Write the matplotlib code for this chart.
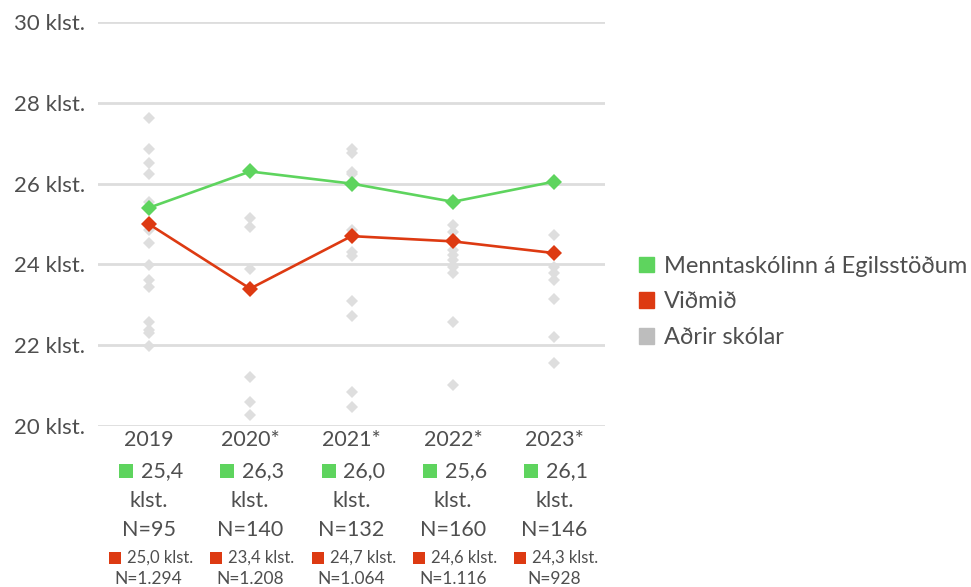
from matplotlib import pyplot as plt
from matplotlib.patches import Patch
import matplotlib.transforms as mtransforms

years = ["2019", "2020*", "2021*", "2022*", "2023*"]
school = [25.4, 26.3, 26.0, 25.55, 26.05]
school_labels = ["25,4", "26,3", "26,0", "25,6", "26,1"]
school_n = [95, 140, 132, 160, 146]
reference = [25.0, 23.4, 24.7, 24.57, 24.28]
reference_labels = ["25,0", "23,4", "24,7", "24,6", "24,3"]
reference_n = ["1.294", "1.208", "1.064", "1.116", "928"]
others = [
    [27.62, 26.85, 26.50, 26.24, 25.55, 24.85, 24.54, 23.99, 23.61, 23.45, 22.58, 22.38, 22.29, 21.98],
    [25.14, 24.92, 23.88, 21.22, 20.60, 20.27],
    [26.85, 26.75, 26.29, 26.24, 24.85, 24.31, 24.21, 23.09, 22.72, 20.85, 20.48],
    [24.98, 24.81, 24.36, 24.23, 24.11, 23.94, 23.78, 22.58, 21.01],
    [24.73, 23.94, 23.78, 23.61, 23.14, 22.20, 21.57],
]
y_ticks = [20, 22, 24, 26, 28, 30]

GREEN = "#5ed45e"
RED = "#dd3a12"
GRAY = "#dedede"
TEXT = "#4f4f4f"

plt.rcParams['font.family'] = ['Lato', 'DejaVu Sans']

fig = plt.figure(figsize=(9.71, 5.87), dpi=100)
ax = fig.add_axes([98 / 971, 1 - 426 / 587, 507 / 971, 404 / 587])

for i, vals in enumerate(others):
    ax.plot([i] * len(vals), vals, linestyle='none', marker='D', markersize=6.5,
            color=GRAY, markeredgewidth=0, zorder=2)

xs = list(range(len(years)))
ax.plot(xs, reference, color=RED, linewidth=1.9, marker='D', markersize=8,
        markeredgewidth=0, zorder=4)
ax.plot(xs, school, color=GREEN, linewidth=1.9, marker='D', markersize=8,
        markeredgewidth=0, zorder=5)

ax.set_xlim(-0.5, 4.5)
ax.set_ylim(20, 30)
ax.set_yticks(y_ticks)
ax.set_yticklabels(["%d klst." % t for t in y_ticks], fontsize=16, color=TEXT)
ax.set_xticks([])
ax.tick_params(axis='y', length=0, pad=9)
for s in ax.spines.values():
    s.set_visible(False)
ax.grid(axis='y', color='#dddddd', linewidth=2)
ax.set_axisbelow(True)

trans = mtransforms.blended_transform_factory(ax.transData, fig.transFigure)

def fy(py):
    return 1 - py / 587

for i in xs:
    ax.text(i, fy(440), years[i], transform=trans, ha='center', va='center',
            fontsize=15.5, color=TEXT)
    # green row
    sq = mtransforms.offset_copy(trans, fig=fig, x=-23, y=0, units='dots')
    ax.plot([i], [fy(471)], marker='s', markersize=10.5, color=GREEN,
            transform=sq, clip_on=False, markeredgewidth=0)
    ax.annotate(school_labels[i], xy=(i, fy(471)), xycoords=trans,
                xytext=(-8, 0), textcoords='offset pixels', ha='left', va='center',
                fontsize=15.5, color=TEXT)
    ax.text(i, fy(501), "klst.", transform=trans, ha='center', va='center',
            fontsize=15.5, color=TEXT)
    ax.text(i, fy(530), "N=%d" % school_n[i], transform=trans, ha='center', va='center',
            fontsize=15.5, color=TEXT)
    # reference row
    sq2 = mtransforms.offset_copy(trans, fig=fig, x=-34, y=0, units='dots')
    ax.plot([i], [fy(558)], marker='s', markersize=8, color=RED,
            transform=sq2, clip_on=False, markeredgewidth=0)
    ax.annotate(reference_labels[i] + " klst.", xy=(i, fy(558)),
                xycoords=trans, xytext=(-22, 0), textcoords='offset pixels',
                ha='left', va='center', fontsize=12, color=TEXT)
    ax.text(i, fy(579), "N=%s" % reference_n[i], transform=trans, ha='center',
            va='center', fontsize=12.5, color=TEXT)

handles = [Patch(color=GREEN), Patch(color=RED), Patch(color="#bdbdbd")]
labels = ["Menntaskólinn á Egilsstöðum", "Viðmið", "Aðrir skólar"]
fig.legend(handles, labels, loc='center left', bbox_to_anchor=(632 / 971, fy(302)),
           frameon=False, fontsize=17, handlelength=0.65, handleheight=0.65,
           handletextpad=0.4, labelspacing=0.62, labelcolor=TEXT,
           borderaxespad=0, borderpad=0.3)

fig.savefig("out.png", dpi=100)
